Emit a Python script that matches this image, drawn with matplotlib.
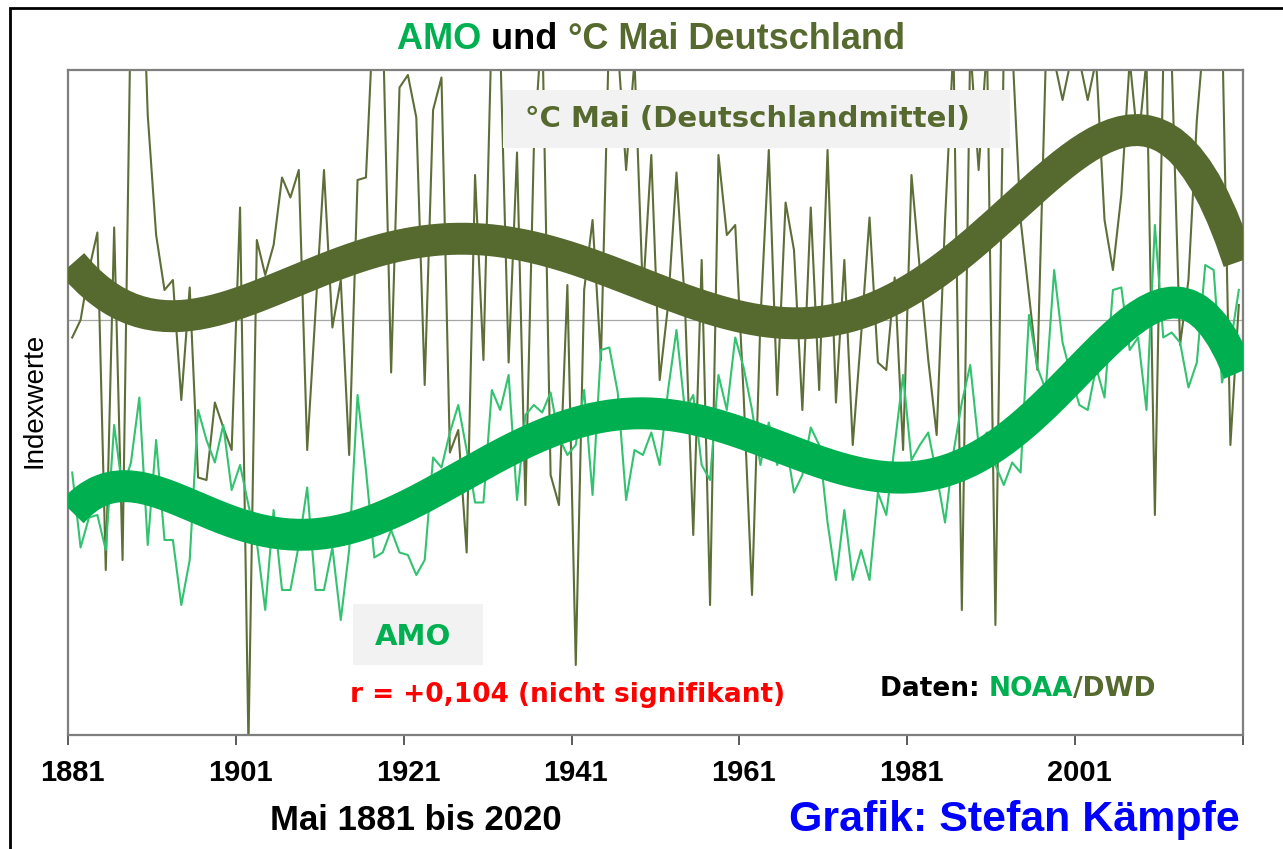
import numpy as np
import matplotlib
matplotlib.use('Agg')
import matplotlib.pyplot as plt
from matplotlib.patches import Rectangle

# Mai-Werte 1881-2020 als Indexwerte
years = np.arange(1881, 2021)
temp_mai = [
    -0.35, 0.0, 1.0, 1.75, -5.0, 1.85, -4.8, 6.5, 9.0, 4.1,
    1.7, 0.6, 0.8, -1.6, 0.65, -3.15, -3.2, -1.65, -2.15, -2.6,
    2.25, -8.5, 1.6, 0.9, 1.5, 2.85, 2.45, 3.0, -2.6, 0.2,
    3.0, -0.15, 0.8, -2.7, 2.8, 2.85, 6.5, 6.0, -1.05, 4.65,
    4.9, 4.05, -1.3, 4.2, 4.85, -2.65, -2.2, -4.65, 2.9, -0.8,
    6.0, 5.5, -0.85, 3.35, -3.7, 3.4, 6.0, -3.1, -3.7, 0.7,
    -6.9, 0.6, 2.0, -0.8, 6.0, 5.5, 3.0, 5.2, 0.5, 3.3,
    -1.2, 0.3, 2.95, 0.35, -4.3, 1.2, -5.7, 3.3, 1.7, 1.9,
    -1.5, -5.5, 0.0, 3.4, -1.5, 2.35, 1.4, -1.8, 2.25, -1.4,
    3.4, -1.65, 1.2, -2.5, -0.3, 2.05, -0.85, -1.0, 0.85, -2.6,
    2.9, 1.0, -0.8, -2.3, 2.0, 5.5, -5.8, 5.5, 3.0, 5.5,
    -6.1, 5.5, 5.5, 2.0, 0.5, -1.0, 5.2, 5.2, 4.4, 5.2,
    5.2, 4.4, 5.2, 2.0, 1.0, 2.5, 5.2, 3.5, 5.2, -3.9,
    5.2, 5.2, -0.5, 0.8, 4.0, 6.0, 6.0, 6.0, -2.5, 0.3,
]
amo_mai = [
    -3.05, -4.55, -3.95, -3.9, -4.6, -2.1, -3.4, -2.85, -1.55, -4.5,
    -2.4, -4.4, -4.4, -5.7, -4.8, -1.8, -2.4, -2.85, -2.1, -3.4,
    -2.9, -3.7, -4.45, -5.8, -3.8, -5.4, -5.4, -4.5, -3.35, -5.4,
    -5.4, -4.55, -6.0, -4.6, -1.5, -3.0, -4.75, -4.65, -4.2, -4.65,
    -4.7, -5.1, -4.8, -2.75, -2.95, -2.25, -1.7, -2.6, -3.65, -3.65,
    -1.4, -1.8, -1.1, -3.6, -1.9, -1.7, -1.85, -1.45, -2.35, -2.7,
    -2.5, -1.4, -3.5, -0.6, -0.55, -1.45, -3.6, -2.6, -2.7, -2.25,
    -2.9, -1.4, -0.2, -1.8, -1.5, -2.9, -3.2, -1.1, -1.8, -0.35,
    -0.95, -1.8, -2.9, -2.05, -2.9, -2.4, -3.45, -3.1, -2.15, -2.5,
    -4.05, -5.2, -3.8, -5.2, -4.6, -5.2, -3.45, -3.9, -2.5, -1.1,
    -2.8, -2.5, -2.25, -3.1, -4.05, -2.65, -1.65, -0.9, -2.5, -2.25,
    -2.9, -3.3, -2.85, -3.05, 0.1, -0.95, -1.4, 1.0, -0.45, -1.1,
    -1.7, -1.8, -0.95, -1.55, 0.6, 0.65, -0.6, -0.35, -1.8, 1.9,
    -0.35, -0.25, -0.45, -1.35, -0.85, 1.1, 1.0, -1.25, -0.5, 0.6,
]
tick_years = list(range(1881, 2002, 20))

OLIV = '#566a2f'
GRUEN = '#00b050'
W, H = 1283, 849
arial = ['Liberation Sans', 'DejaVu Sans']


def fx(x):
    return x / W


def fy(y):
    return 1 - y / H


def trend(y):
    # polynomischer Trend 6. Ordnung wie in Excel
    p = np.polynomial.Polynomial.fit(years, y, 6)
    return p(years)


fig = plt.figure(figsize=(W / 100, H / 100), dpi=100)
ax = fig.add_axes([fx(68), fy(735), (1243 - 68) / W, (735 - 70) / H])

ax.axhline(0, color='#a6a6a6', lw=0.9, zorder=0)
ax.plot(years, temp_mai, color='#5e6e38', lw=1.5, zorder=2)
ax.plot(years, amo_mai, color='#33c270', lw=1.5, zorder=2)
ax.plot(years, trend(temp_mai), color=OLIV, lw=23, solid_capstyle='butt', zorder=3)
ax.plot(years, trend(amo_mai), color=GRUEN, lw=23, solid_capstyle='butt', zorder=3)

ax.set_xlim(1880.5, 2020.5)
ax.set_ylim(-8.3, 5.0)
ax.set_yticks([])
ax.set_xticks(tick_years)
ax.set_xticklabels([str(t) for t in tick_years], fontsize=21, fontweight='bold',
                   family=arial)
ax.set_xticks(np.arange(1880.5, 2021, 20), minor=True)
ax.tick_params(axis='x', which='major', length=0, pad=17)
ax.tick_params(axis='x', which='minor', length=7, direction='out', color='#404040', width=1.2)
for s in ax.spines.values():
    s.set_color('#7f7f7f')
    s.set_linewidth(1.6)

# Titel, mehrfarbig
t1 = fig.text(fx(397), fy(57), 'AMO ', color=GRUEN, fontsize=26, fontweight='bold',
              family=arial, va='bottom', ha='left')
t2 = ax.annotate('und ', xy=(1, 0), xycoords=t1, color='black', fontsize=26,
                 fontweight='bold', family=arial, va='bottom', ha='left', annotation_clip=False)
ax.annotate('°C Mai Deutschland', xy=(1, 0), xycoords=t2, color=OLIV, fontsize=26,
            fontweight='bold', family=arial, va='bottom', ha='left', annotation_clip=False)

fig.text(fx(35), fy(400), 'Indexwerte', rotation=90, fontsize=20, family=arial,
         va='center', ha='center')
fig.text(fx(416), fy(820), 'Mai 1881 bis 2020', fontsize=25, fontweight='bold',
         family=arial, va='center', ha='center')
fig.text(fx(1240), fy(820), 'Grafik: Stefan Kämpfe', color='#0000ff', fontsize=31,
         fontweight='bold', family=arial, va='center', ha='right')

# graue Kästen mit Beschriftung
fig.add_artist(Rectangle((fx(503), fy(148)), (1010 - 503) / W, 58 / H,
                         facecolor='#f2f2f2', edgecolor='none', transform=fig.transFigure, zorder=4))
fig.text(fx(747), fy(119), '°C Mai (Deutschlandmittel)', color=OLIV, fontsize=21,
         fontweight='bold', va='center', ha='center', zorder=5)
fig.add_artist(Rectangle((fx(353), fy(665)), 130 / W, 61 / H,
                         facecolor='#f2f2f2', edgecolor='none', transform=fig.transFigure, zorder=4))
fig.text(fx(413), fy(637), 'AMO', color=GRUEN, fontsize=21, fontweight='bold',
         va='center', ha='center', zorder=5)

fig.text(fx(568), fy(695), 'r = +0,104 (nicht signifikant)', color='#ff0000', fontsize=19,
         fontweight='bold', va='center', ha='center', zorder=5)

d1 = fig.text(fx(880), fy(702), 'Daten: ', color='black', fontsize=19, fontweight='bold',
              va='bottom', ha='left', zorder=5)
d2 = ax.annotate('NOAA', xy=(1, 0), xycoords=d1, color=GRUEN, fontsize=19, fontweight='bold',
                 va='bottom', ha='left', annotation_clip=False, zorder=5)
ax.annotate('/DWD', xy=(1, 0), xycoords=d2, color=OLIV, fontsize=19, fontweight='bold',
            va='bottom', ha='left', annotation_clip=False, zorder=5)

# Rahmen um die Grafik
fig.add_artist(Rectangle((fx(10), -0.1), 1.2, fy(8) + 0.1, fill=False, edgecolor='black',
                         lw=2, transform=fig.transFigure))

fig.savefig('out.png', dpi=100)
